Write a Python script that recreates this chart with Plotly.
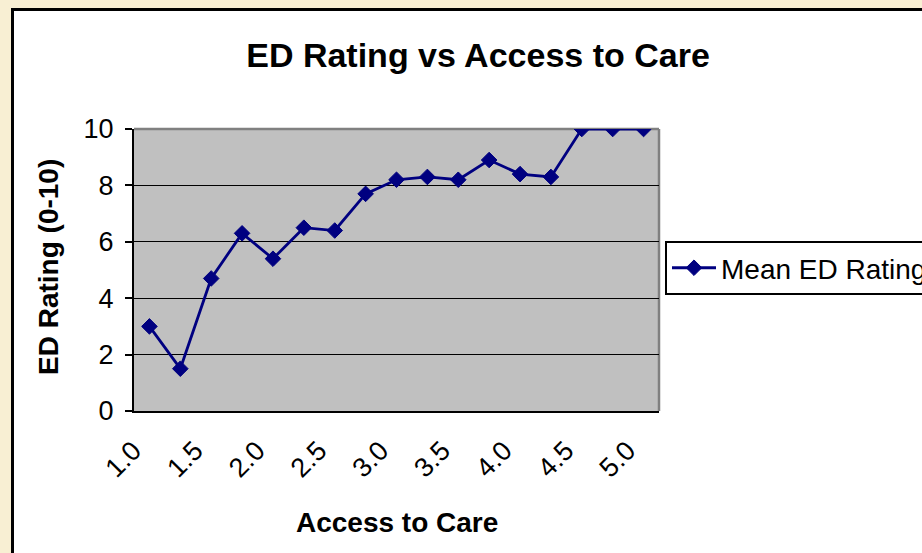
import plotly.graph_objects as go

# ---- data ----
access = [1.0, 1.25, 1.5, 1.75, 2.0, 2.25, 2.5, 2.75, 3.0, 3.25, 3.5, 3.75, 4.0, 4.25, 4.5, 4.75, 5.0]
mean_rating = [3.0, 1.5, 4.7, 6.3, 5.4, 6.5, 6.4, 7.7, 8.2, 8.3, 8.2, 8.9, 8.4, 8.3, 10.0, 10.0, 10.0]
label_vals = [1.0, 1.5, 2.0, 2.5, 3.0, 3.5, 4.0, 4.5, 5.0]
label_text = ["1.0", "1.5", "2.0", "2.5", "3.0", "3.5", "4.0", "4.5", "5.0"]
y_ticks = [0, 2, 4, 6, 8, 10]

half = (access[1] - access[0]) / 2
boundaries = [a - half for a in access] + [access[-1] + half]
xrange = [boundaries[0], boundaries[-1]]

FONT = "Liberation Sans, Arial, sans-serif"
NAVY = "#000080"

fig = go.Figure()
fig.add_trace(go.Scatter(
    x=access, y=mean_rating, mode="lines+markers", name="Mean ED Rating",
    line=dict(color=NAVY, width=2.8),
    marker=dict(symbol="diamond", size=12, color=NAVY, line=dict(color=NAVY, width=1)),
))

fig.update_layout(
    width=922, height=553,
    margin=dict(l=134, r=263, t=129, b=142, pad=0, autoexpand=False),
    paper_bgcolor="white",
    plot_bgcolor="#C0C0C0",
    font=dict(family=FONT, color="black", size=27),
    title=dict(text="<b>ED Rating vs Access to Care</b>", font=dict(size=34, family=FONT),
               x=478/922, xref="container", xanchor="center",
               y=1-55/553, yref="container", yanchor="middle"),
    showlegend=True,
    legend=dict(x=(665-134)/525, xanchor="left", y=0.507, yanchor="middle",
                bgcolor="white", bordercolor="black", borderwidth=2,
                font=dict(size=28, family=FONT), itemwidth=44, tracegroupgap=0),
    xaxis=dict(range=xrange, tickvals=label_vals, ticktext=label_text, tickangle=-45,
               ticks="", showgrid=False, zeroline=False,
               showline=True, linecolor="black", linewidth=2,
               ticklabelstandoff=11, ticklabelshift=-16,
               tickfont=dict(size=27, family=FONT)),
    xaxis2=dict(range=xrange, overlaying="x", anchor="y", side="bottom",
                tickvals=boundaries, ticks="outside", ticklen=7, tickwidth=1.5, tickcolor="black",
                showticklabels=False, showgrid=False, zeroline=False, showline=False),
    yaxis=dict(range=[0, 10], tickvals=y_ticks, ticks="outside", ticklen=7, tickwidth=1.5,
               tickcolor="black", showgrid=True, gridcolor="black", gridwidth=1,
               zeroline=False, showline=True, linecolor="black", linewidth=2,
               ticklabelstandoff=6,
               tickfont=dict(size=27, family=FONT)),
)

# axis titles
fig.add_annotation(text="<b>Access to Care</b>", xref="paper", yref="paper",
                   x=(397-134)/525, y=(411-522)/282, xanchor="center", yanchor="middle",
                   showarrow=False, font=dict(size=28, family=FONT))
fig.add_annotation(text="<b>ED Rating (0-10)</b>", xref="paper", yref="paper",
                   x=(48-134)/525, y=(411-267)/282, xanchor="center", yanchor="middle", textangle=-90,
                   showarrow=False, font=dict(size=28, family=FONT))

# plot-area top/right borders (grey)
fig.add_shape(type="line", xref="paper", yref="paper", x0=0, x1=1, y0=1, y1=1,
              line=dict(color="#808080", width=2.5), layer="between")
fig.add_shape(type="line", xref="paper", yref="paper", x0=1, x1=1, y0=0, y1=1,
              line=dict(color="#808080", width=2.5), layer="between")

# outer frame: beige strips and black chart-area border
BEIGE = "#F8EFD3"
px = lambda p: (p - 134) / 525
py = lambda p: (411 - p) / 282
fig.add_shape(type="rect", xref="paper", yref="paper", x0=px(-5), x1=px(11), y0=py(600), y1=py(-5),
              fillcolor=BEIGE, line=dict(width=0), layer="below")
fig.add_shape(type="rect", xref="paper", yref="paper", x0=px(-5), x1=px(940), y0=py(8), y1=py(-5),
              fillcolor=BEIGE, line=dict(width=0), layer="below")
fig.add_shape(type="line", xref="paper", yref="paper", x0=px(12.5), x1=px(12.5), y0=py(8), y1=py(600),
              line=dict(color="black", width=3), layer="below")
fig.add_shape(type="line", xref="paper", yref="paper", x0=px(11), x1=px(940), y0=py(9.5), y1=py(9.5),
              line=dict(color="black", width=3), layer="below")

fig.write_html("out.html")
